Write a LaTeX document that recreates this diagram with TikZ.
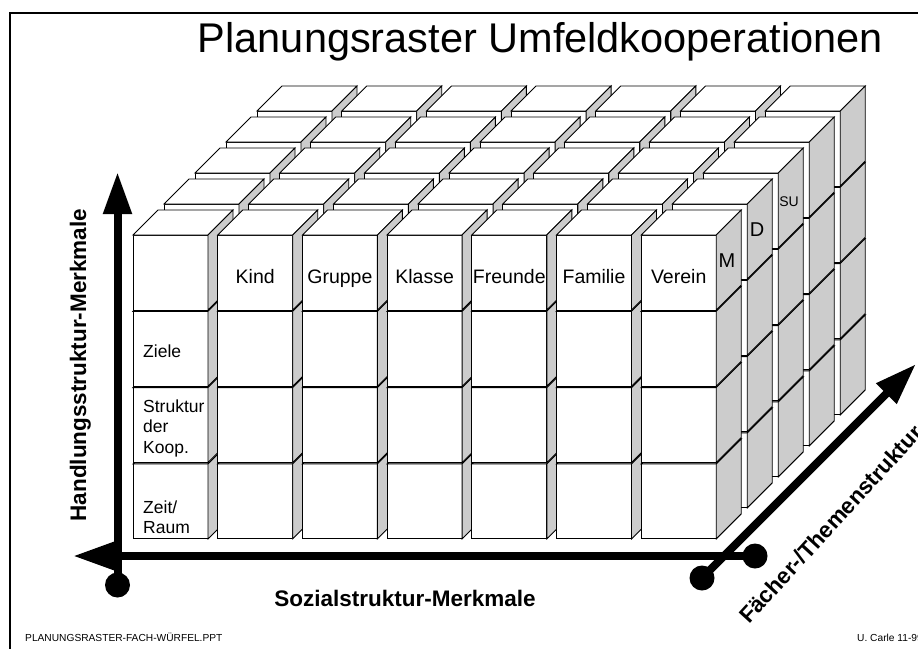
\documentclass[tikz,border=0pt]{standalone}
\usepackage{fontspec}
\setmainfont{Liberation Sans}
\usetikzlibrary{arrows.meta}
\begin{document}
\begin{tikzpicture}[x=1pt,y=-1pt,
  face/.style={draw=black, fill=white, line width=0.9pt, line join=miter},
  sideface/.style={draw=black, fill=black!20, line width=0.9pt, line join=miter},
  axis/.style={line width=8pt, -{Triangle[length=42pt,width=27pt]}},
  dot/.style={circle, fill=black, inner sep=0pt, minimum size=25pt},
  lbl/.style={font=\fontsize{19.5}{22}\selectfont, inner sep=0pt, anchor=base},
  rowlbl/.style={font=\fontsize{17.5}{20.5}\selectfont, anchor=base west, inner sep=0pt},
  axislbl/.style={font=\bfseries\fontsize{22.5}{26}\selectfont, inner sep=0pt, anchor=base},
  foot/.style={font=\fontsize{10.2}{12}\selectfont, inner sep=0pt, anchor=base west},
  titlestyle/.style={font=\fontsize{41.5}{46}\selectfont, inner sep=0pt, anchor=base}]
\useasboundingbox[fill=white] (0,0) rectangle (918,648);
% frame
\draw[line width=2pt] (10,700) -- (10,12.5) -- (940,12.5);
% title
\node[titlestyle] (title) at (540.5,52.5) {Planungsraster Umfeldkooperationen};
% cubes
\foreach \k in {4,3,2,1,0} {
  \foreach \r in {3,2,1,0} {
    \foreach \c in {0,...,6} {
      \pgfmathsetmacro\X{133+84.7*\c+31*\k}
      \pgfmathsetmacro\Y{235+76.3*\r-31*\k}
      \draw[face] (\X,\Y) rectangle ++(75,75);
      \draw[face] (\X,\Y) -- ++(25,-25) -- ++(75,0) -- ++(-25,25) -- cycle;
      \draw[sideface] (\X+75,\Y) -- ++(25,-25) -- ++(0,75) -- ++(-25,25) -- cycle;
    }
  }
}
% column labels
\node[lbl] (kind) at (255.2,283) {Kind};
\node[lbl] (gruppe) at (339.9,283) {Gruppe};
\node[lbl] (klasse) at (424.6,283) {Klasse};
\node[lbl] (freunde) at (509.3,283) {Freunde};
\node[lbl] (familie) at (594.0,283) {Familie};
\node[lbl] (verein) at (678.7,283) {Verein};
% row labels
\node[rowlbl] (ziele) at (143,357) {Ziele};
\node[rowlbl] (str1) at (143,412) {Struktur};
\node[rowlbl] (str2) at (143,432.5) {der};
\node[rowlbl] (str3) at (143,453) {Koop.};
\node[rowlbl] (zeit1) at (143,513) {Zeit/};
\node[rowlbl] (zeit2) at (143,533.5) {Raum};
% layer labels
\node[font=\fontsize{20}{22}\selectfont, inner sep=0pt] (m) at (727,261) {M};
\node[font=\fontsize{20}{22}\selectfont, inner sep=0pt] (d) at (757,229.5) {D};
\node[font=\fontsize{14}{16}\selectfont, inner sep=0pt] (su) at (789,202) {SU};
% axes
\node[dot] (o1) at (117.5,585) {};
\coordinate (t1) at (117.5,172);
\draw[axis] (o1.center) -- (t1);
\node[dot] (o2) at (755,556) {};
\coordinate (t2) at (73,556);
\draw[axis] (o2.center) -- (t2);
\node[dot] (o3) at (702,578) {};
\coordinate (t3) at (916,364);
\draw[axis] (o3.center) -- (t3);
% axis labels
\node[axislbl, rotate=90] (hlabel) at (86,365) {Handlungsstruktur-Merkmale};
\node[axislbl] (slabel) at (405,606) {Sozialstruktur-Merkmale};
\node[axislbl, rotate=47.5] (flabel) at (836.5,529.5) {Fächer-/Themenstruktur};
% footer
\node[foot] (fl) at (25,641) {PLANUNGSRASTER-FACH-WÜRFEL.PPT};
\node[foot] (fr) at (857,641) {U. Carle 11-99};
\end{tikzpicture}
\end{document}
